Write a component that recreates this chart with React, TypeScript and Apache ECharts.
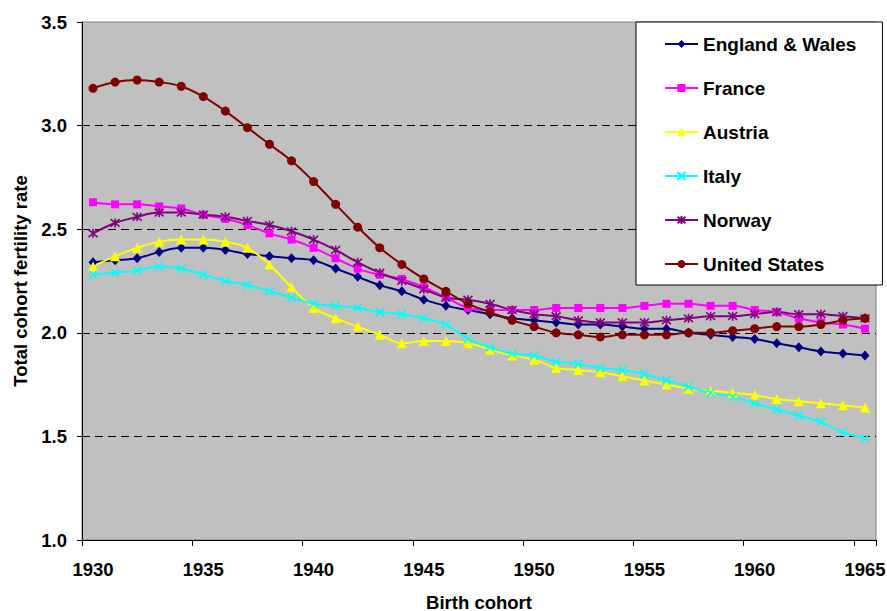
import React, { useEffect, useRef } from "react";
import * as echarts from "echarts";

const years = [
  "1930", "1931", "1932", "1933", "1934", "1935", "1936", "1937", "1938", "1939",
  "1940", "1941", "1942", "1943", "1944", "1945", "1946", "1947", "1948", "1949",
  "1950", "1951", "1952", "1953", "1954", "1955", "1956", "1957", "1958", "1959",
  "1960", "1961", "1962", "1963", "1964", "1965",
];

const englandWales = [
  2.34, 2.35, 2.36, 2.39, 2.41, 2.41, 2.40, 2.38, 2.37, 2.36,
  2.35, 2.31, 2.27, 2.23, 2.20, 2.16, 2.13, 2.11, 2.09, 2.07,
  2.06, 2.05, 2.04, 2.04, 2.03, 2.02, 2.02, 2.00, 1.99, 1.98,
  1.97, 1.95, 1.93, 1.91, 1.90, 1.89,
];
const france = [
  2.63, 2.62, 2.62, 2.61, 2.60, 2.57, 2.55, 2.52, 2.48, 2.45,
  2.41, 2.36, 2.31, 2.28, 2.26, 2.22, 2.17, 2.12, 2.11, 2.11,
  2.11, 2.12, 2.12, 2.12, 2.12, 2.13, 2.14, 2.14, 2.13, 2.13,
  2.11, 2.10, 2.07, 2.05, 2.04, 2.02,
];
const austria = [
  2.32, 2.37, 2.41, 2.44, 2.45, 2.45, 2.44, 2.41, 2.33, 2.22,
  2.12, 2.07, 2.03, 1.99, 1.95, 1.96, 1.96, 1.95, 1.92, 1.89,
  1.87, 1.83, 1.82, 1.81, 1.79, 1.77, 1.75, 1.73, 1.72, 1.71,
  1.70, 1.68, 1.67, 1.66, 1.65, 1.64,
];
const italy = [
  2.28, 2.29, 2.30, 2.32, 2.31, 2.28, 2.25, 2.23, 2.20, 2.17,
  2.14, 2.13, 2.12, 2.10, 2.09, 2.07, 2.04, 1.97, 1.93, 1.90,
  1.89, 1.86, 1.85, 1.83, 1.82, 1.80, 1.77, 1.74, 1.71, 1.69,
  1.66, 1.63, 1.60, 1.57, 1.52, 1.49,
];
const norway = [
  2.48, 2.53, 2.56, 2.58, 2.58, 2.57, 2.56, 2.54, 2.52, 2.49,
  2.45, 2.40, 2.34, 2.29, 2.25, 2.21, 2.17, 2.16, 2.14, 2.11,
  2.09, 2.08, 2.06, 2.05, 2.05, 2.05, 2.06, 2.07, 2.08, 2.08,
  2.09, 2.10, 2.09, 2.09, 2.08, 2.07,
];
const unitedStates = [
  3.18, 3.21, 3.22, 3.21, 3.19, 3.14, 3.07, 2.99, 2.91, 2.83,
  2.73, 2.62, 2.51, 2.41, 2.33, 2.26, 2.20, 2.14, 2.10, 2.06,
  2.03, 2.00, 1.99, 1.98, 1.99, 1.99, 1.99, 2.00, 2.00, 2.01,
  2.02, 2.03, 2.03, 2.04, 2.06, 2.07,
];

const seriesNames = ["England & Wales", "France", "Austria", "Italy", "Norway", "United States"];

const FONT = 'Arial, "Liberation Sans", sans-serif';

const X_SYMBOL = "path://M0,0L10,10M10,0L0,10";
const STAR_SYMBOL = "path://M0,0L10,10M10,0L0,10M5,-1L5,11";

export default function App() {
  const ref = useRef<HTMLDivElement>(null);

  useEffect(() => {
    document.body.style.margin = "0";
    const chart = echarts.init(ref.current!, null, { renderer: "svg" });

    const mk = (name: string, data: number[], color: string, symbol: string, size: number | number[], stroke = false) => ({
      name,
      type: "line",
      data,
      smooth: 0.35,
      symbol,
      symbolSize: size,
      showAllSymbol: true,
      lineStyle: { color, width: 2 },
      itemStyle: stroke
        ? { color, borderColor: color, borderWidth: 1.6 }
        : { color, borderWidth: 0 },
      emphasis: { disabled: true },
    });

    chart.setOption({
      animation: false,
      backgroundColor: "#ffffff",
      textStyle: { fontFamily: FONT },
      grid: {
        left: 82,
        right: 11,
        top: 22,
        bottom: 71,
        containLabel: false,
        outerBoundsMode: "none",
        show: true,
        backgroundColor: "#C0C0C0",
        borderColor: "#808080",
        borderWidth: 1,
      },
      legend: {
        orient: "vertical",
        left: 636,
        top: 22,
        backgroundColor: "#ffffff",
        borderColor: "#000000",
        borderWidth: 1,
        padding: [12, 26, 11, 28],
        itemWidth: 33,
        itemHeight: 10,
        itemGap: 24,
        textStyle: { fontSize: 19, fontWeight: "bold", fontFamily: FONT, color: "#000", lineHeight: 20 },
        data: seriesNames,
      },
      xAxis: {
        type: "category",
        data: years,
        boundaryGap: true,
        axisLine: { show: true, lineStyle: { color: "#000", width: 1 } },
        axisTick: { show: true, interval: 4, length: 6, lineStyle: { color: "#000" } },
        axisLabel: {
          interval: 4,
          margin: 20,
          fontSize: 18.5,
          fontWeight: "bold",
          color: "#000",
          fontFamily: FONT,
        },
        splitLine: { show: false },
        name: "Birth cohort",
        nameLocation: "middle",
        nameGap: 54,
        nameTextStyle: { fontSize: 18.5, lineHeight: 16, fontWeight: "bold", color: "#000", fontFamily: FONT },
      },
      yAxis: {
        type: "value",
        min: 1,
        max: 3.5,
        interval: 0.5,
        axisLine: { show: true, lineStyle: { color: "#000", width: 1 } },
        axisTick: { show: true, length: 5, lineStyle: { color: "#000" } },
        axisLabel: {
          margin: 15,
          fontSize: 18.5,
          fontWeight: "bold",
          color: "#000",
          fontFamily: FONT,
          formatter: (v: number) => v.toFixed(1),
        },
        splitLine: {
          show: true,
          showMinLine: false,
          showMaxLine: false,
          lineStyle: { color: "#000", width: 1, type: [8, 5] },
        },
        name: "Total cohort fertility rate",
        nameLocation: "middle",
        nameGap: 52,
        nameRotate: 90,
        nameTextStyle: { fontSize: 18.5, fontWeight: "bold", color: "#000", fontFamily: FONT },
      },
      series: [
        mk("England & Wales", englandWales, "#000080", "diamond", [9, 10]),
        mk("France", france, "#FF00FF", "rect", 8),
        mk("Austria", austria, "#FFFF00", "triangle", 10),
        mk("Italy", italy, "#00FFFF", X_SYMBOL, 8, true),
        mk("Norway", norway, "#800080", STAR_SYMBOL, 9, true),
        mk("United States", unitedStates, "#800000", "circle", 9),
      ],
    });

    return () => chart.dispose();
  }, []);

  return <div ref={ref} style={{ width: 887, height: 611 }} />;
}
